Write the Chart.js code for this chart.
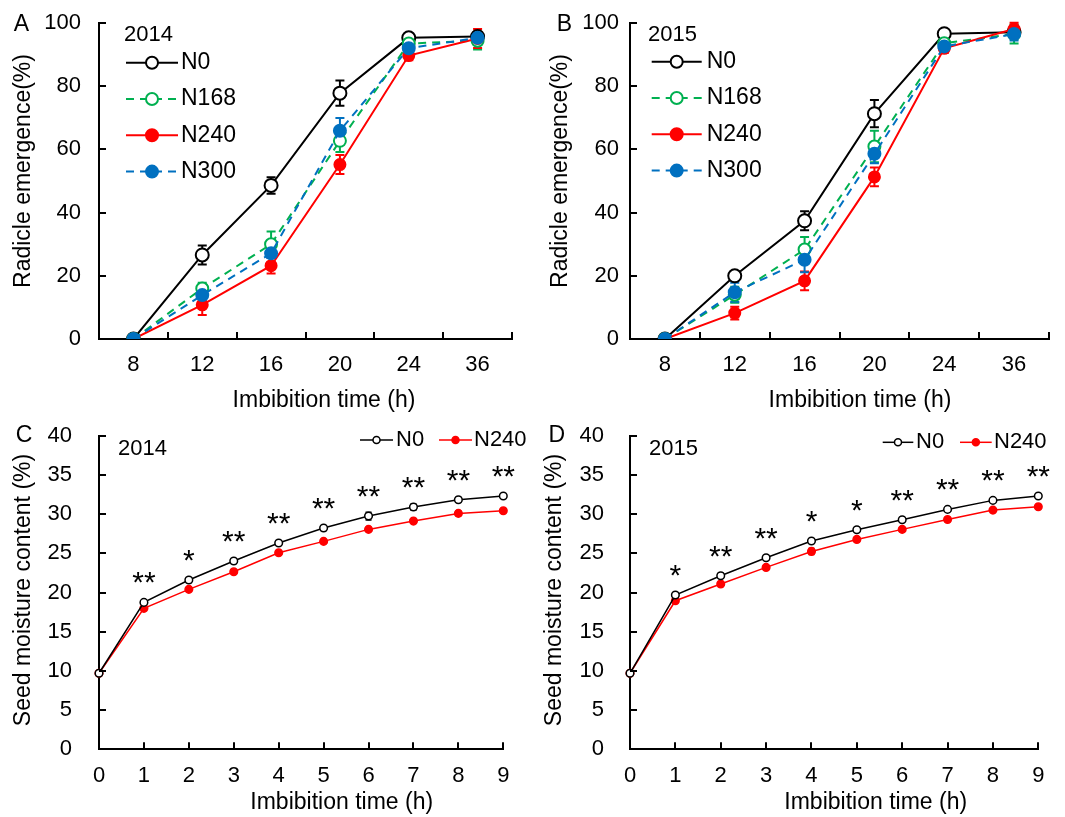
<!DOCTYPE html>
<html>
<head>
<meta charset="utf-8">
<script src="https://cdn.jsdelivr.net/npm/chart.js@4"></script>
<style>
  body { margin: 0; background: #fff; }
  .panel { position: absolute; }
</style>
</head>
<body>
<div class="panel" style="left:0;top:0"><canvas id="chartA" width="530" height="418"></canvas></div>
<div class="panel" style="left:530px;top:0"><canvas id="chartB" width="535" height="418"></canvas></div>
<div class="panel" style="left:0;top:418px"><canvas id="chartC" width="530" height="399"></canvas></div>
<div class="panel" style="left:530px;top:418px"><canvas id="chartD" width="535" height="399"></canvas></div>
<script>
// ========== data ==========
var emergenceHours = ["8", "12", "16", "20", "24", "36"];
var moistureHours = ["0", "1", "2", "3", "4", "5", "6", "7", "8", "9"];

// A: 2014 radicle emergence (%)
var a_N0 = [0, 26.6, 48.6, 77.8, 95.3, 95.7];
var a_N0_err = [0, 3.0, 2.6, 4.0, 0.8, 1.5];
var a_N168 = [0, 16.0, 30.0, 62.7, 93.5, 94.4];
var a_N168_err = [0, 1.8, 4.0, 3.5, 1.0, 2.8];
var a_N240 = [0, 10.8, 23.2, 55.2, 89.7, 95.1];
var a_N240_err = [0, 3.2, 2.5, 3.0, 1.5, 3.0];
var a_N300 = [0, 13.9, 27.1, 65.9, 92.0, 95.3];
var a_N300_err = [0, 1.0, 1.5, 4.0, 1.0, 1.5];

// B: 2015 radicle emergence (%)
var b_N0 = [0, 20.0, 37.4, 71.3, 96.6, 97.1];
var b_N0_err = [0, 1.5, 3.0, 4.3, 0.5, 2.0];
var b_N168 = [0, 14.0, 28.3, 60.9, 93.6, 96.5];
var b_N168_err = [0, 2.5, 4.0, 5.0, 1.0, 3.0];
var b_N240 = [0, 8.2, 18.4, 51.3, 92.0, 98.1];
var b_N240_err = [0, 2.0, 3.0, 3.0, 1.5, 2.0];
var b_N300 = [0, 14.8, 25.1, 58.6, 92.6, 96.5];
var b_N300_err = [0, 3.0, 4.0, 3.0, 1.0, 2.0];

// C: 2014 seed moisture content (%)
var c_N0 = [9.7, 18.74, 21.59, 24.01, 26.31, 28.22, 29.75, 30.90, 31.83, 32.30];
var c_N0_err = [0.2, 0.2, 0.3, 0.3, 0.2, 0.3, 0.5, 0.4, 0.3, 0.2];
var c_N240 = [9.7, 17.98, 20.40, 22.65, 25.07, 26.52, 28.05, 29.11, 30.09, 30.43];
var c_N240_err = [0.2, 0.2, 0.2, 0.2, 0.2, 0.2, 0.2, 0.2, 0.3, 0.2];
var c_sig = ["", "**", "*", "**", "**", "**", "**", "**", "**", "**"];

// D: 2015 seed moisture content (%)
var d_N0 = [9.7, 19.68, 22.14, 24.44, 26.56, 28.00, 29.28, 30.60, 31.75, 32.30];
var d_N0_err = [0.2, 0.2, 0.3, 0.2, 0.2, 0.2, 0.2, 0.2, 0.2, 0.2];
var d_N240 = [9.7, 18.95, 21.08, 23.20, 25.24, 26.77, 28.05, 29.32, 30.51, 30.94];
var d_N240_err = [0.2, 0.2, 0.3, 0.2, 0.4, 0.3, 0.2, 0.2, 0.3, 0.2];
var d_sig = ["", "*", "**", "**", "*", "*", "**", "**", "**", "**"];

// ========== styles ==========
var FONT = "'Liberation Sans', Arial, sans-serif";
Chart.defaults.font.family = FONT;
Chart.defaults.color = "#000";

var styleN0 = { color: "#000000", fill: "#ffffff", dash: [] };
var styleN168 = { color: "#00B050", fill: "#ffffff", dash: [8, 6] };
var styleN240 = { color: "#FF0000", fill: "#FF0000", dash: [] };
var styleN300 = { color: "#0070C0", fill: "#0070C0", dash: [8, 6] };

function series(label, data, st, radius, lw, order) {
    return {
        label: label, data: data,
        borderColor: st.color, backgroundColor: st.fill, borderDash: st.dash,
        borderWidth: lw, tension: 0, order: order,
        pointRadius: radius, pointBorderWidth: lw,
        pointBackgroundColor: st.fill, pointBorderColor: st.color,
        pointHoverRadius: radius
    };
}

// per-panel decoration (text, legend, error bars, stars)
var panelCfg = {};

function txt(ctx, s, x, y, size, align) {
    ctx.font = size + "px " + FONT;
    ctx.fillStyle = "#000";
    ctx.textAlign = align || "center";
    ctx.textBaseline = "middle";
    ctx.fillText(s, x, y);
}

var decorPlugin = {
    id: "decor",
    beforeDatasetsDraw: function(chart) {
        var cfg = panelCfg[chart.canvas.id];
        var ctx = chart.ctx, ys = chart.scales.y;
        cfg.errors.forEach(function(err, di) {
            var d = chart.data.datasets[di];
            var meta = chart.getDatasetMeta(di);
            ctx.save();
            ctx.strokeStyle = d.borderColor;
            ctx.lineWidth = cfg.errWidth;
            ctx.setLineDash([]);
            err.forEach(function(e, j) {
                if (!e) return;
                var x = meta.data[j].x;
                var y1 = ys.getPixelForValue(d.data[j] - e);
                var y2 = ys.getPixelForValue(d.data[j] + e);
                ctx.beginPath();
                ctx.moveTo(x, y1); ctx.lineTo(x, y2);
                ctx.moveTo(x - cfg.cap, y1); ctx.lineTo(x + cfg.cap, y1);
                ctx.moveTo(x - cfg.cap, y2); ctx.lineTo(x + cfg.cap, y2);
                ctx.stroke();
            });
            ctx.restore();
        });
    },
    afterDraw: function(chart) {
        var cfg = panelCfg[chart.canvas.id];
        var ctx = chart.ctx, xs = chart.scales.x, ys = chart.scales.y;
        var area = chart.chartArea;

        // inside tick marks
        ctx.save();
        ctx.strokeStyle = "#000";
        ctx.lineWidth = 2;
        ctx.beginPath();
        ys.ticks.forEach(function(t) {
            if (t.value === ys.min) return;
            var py = Math.round(ys.getPixelForValue(t.value));
            ctx.moveTo(area.left, py); ctx.lineTo(area.left + 7, py);
        });
        var n = xs.ticks.length;
        for (var i = 0; i < n; i++) {
            var px;
            if (cfg.betweenTicks) {
                var half = (xs.getPixelForValue(1) - xs.getPixelForValue(0)) / 2;
                px = xs.getPixelForValue(i) + half;
            } else {
                if (i === 0) continue;
                px = xs.getPixelForValue(i);
            }
            px = Math.round(px);
            ctx.moveTo(px, area.bottom); ctx.lineTo(px, area.bottom - 7);
        }
        ctx.stroke();
        ctx.restore();

        // titles
        txt(ctx, cfg.letter, cfg.letterPos[0], cfg.letterPos[1], 23);
        txt(ctx, cfg.xTitle, cfg.xTitlePos[0], cfg.xTitlePos[1], 23);
        ctx.save();
        ctx.translate(cfg.yTitlePos[0], cfg.yTitlePos[1]);
        ctx.rotate(-Math.PI / 2);
        txt(ctx, cfg.yTitle, 0, 0, 23);
        ctx.restore();
        txt(ctx, cfg.year, cfg.yearPos[0], cfg.yearPos[1], 22, "left");

        // legend
        cfg.legend.forEach(function(it) {
            var d = chart.data.datasets[it.di];
            ctx.save();
            ctx.strokeStyle = d.borderColor;
            ctx.lineWidth = d.borderWidth;
            ctx.setLineDash(d.borderDash);
            ctx.beginPath();
            ctx.moveTo(it.x1, it.y); ctx.lineTo(it.x2, it.y);
            ctx.stroke();
            ctx.setLineDash([]);
            ctx.beginPath();
            ctx.arc((it.x1 + it.x2) / 2, it.y, cfg.legendMarker, 0, Math.PI * 2);
            ctx.fillStyle = d.pointBackgroundColor;
            ctx.fill();
            ctx.lineWidth = d.pointBorderWidth;
            ctx.stroke();
            ctx.restore();
            txt(ctx, d.label, it.tx, it.y, cfg.legendFont, "left");
        });

        // significance stars above N0
        if (cfg.sig) {
            var meta = chart.getDatasetMeta(0);
            cfg.sig.forEach(function(s, j) {
                if (!s) return;
                var p = meta.data[j];
                ctx.font = "30px " + FONT;
                ctx.fillStyle = "#000";
                ctx.textAlign = "center";
                ctx.textBaseline = "alphabetic";
                ctx.fillText(s, p.x, p.y - 10);
            });
        }
    }
};

function axisStyle() {
    return { display: true, color: "#000", width: 2 };
}

function makeChart(id, labels, datasets, pad, xHeight, yWidth, yMax, yStep, yPad, offset) {
    return new Chart(document.getElementById(id), {
        type: "line",
        data: { labels: labels, datasets: datasets },
        options: {
            responsive: false,
            animation: false,
            layout: { autoPadding: false, padding: pad },
            plugins: { legend: { display: false }, title: { display: false }, tooltip: { enabled: false } },
            scales: {
                x: {
                    type: "category", offset: offset,
                    grid: { display: false, drawTicks: false },
                    border: axisStyle(),
                    ticks: { font: { size: 22 }, color: "#000", padding: 13, maxRotation: 0, autoSkip: false },
                    afterFit: function(s) { s.height = xHeight; s.paddingLeft = 0; s.paddingRight = 0; }
                },
                y: {
                    min: 0, max: yMax,
                    grid: { display: false, drawTicks: false },
                    border: axisStyle(),
                    ticks: { stepSize: yStep, font: { size: 22 }, color: "#000", padding: yPad },
                    afterFit: function(s) { s.width = yWidth; s.paddingTop = 0; s.paddingBottom = 0; }
                }
            }
        },
        plugins: [decorPlugin]
    });
}

function vLegend(x1, x2, tx, y0, dy) {
    return [0, 1, 2, 3].map(function(i) {
        return { di: i, x1: x1, x2: x2, tx: tx, y: y0 + dy * i };
    });
}

// ========== A ==========
panelCfg.chartA = {
    letter: "A", letterPos: [21.5, 25],
    yTitle: "Radicle emergence(%)", yTitlePos: [24, 171],
    xTitle: "Imbibition time (h)", xTitlePos: [324, 401],
    year: "2014", yearPos: [124, 35],
    legendFont: 23, legendMarker: 6,
    legend: vLegend(126, 178, 181, 62.7, 36.3),
    errors: [a_N0_err, a_N168_err, a_N240_err, a_N300_err],
    errWidth: 2, cap: 4.5, betweenTicks: true
};
makeChart("chartA", emergenceHours, [
    series("N0", a_N0, styleN0, 6.5, 2, 3),
    series("N168", a_N168, styleN168, 6, 2, 2),
    series("N240", a_N240, styleN240, 5.5, 2, 1),
    series("N300", a_N300, styleN300, 6, 2, 0)
], { top: 23, right: 18, left: 0, bottom: 0 }, 79, 99, 100, 20, 18, true);

// ========== B ==========
panelCfg.chartB = {
    letter: "B", letterPos: [34.5, 25],
    yTitle: "Radicle emergence(%)", yTitlePos: [31, 171],
    xTitle: "Imbibition time (h)", xTitlePos: [330, 401],
    year: "2015", yearPos: [118, 34.5],
    legendFont: 23, legendMarker: 6,
    legend: vLegend(121.7, 171.7, 176.7, 61.7, 36.3),
    errors: [b_N0_err, b_N168_err, b_N240_err, b_N300_err],
    errWidth: 2, cap: 4.5, betweenTicks: true
};
makeChart("chartB", emergenceHours, [
    series("N0", b_N0, styleN0, 6.5, 2, 3),
    series("N168", b_N168, styleN168, 6, 2, 2),
    series("N240", b_N240, styleN240, 5.5, 2, 1),
    series("N300", b_N300, styleN300, 6, 2, 0)
], { top: 23, right: 16, left: 0, bottom: 0 }, 79, 100, 100, 20, 11, true);

// ========== C ==========
panelCfg.chartC = {
    letter: "C", letterPos: [24, 17.8],
    yTitle: "Seed moisture content (%)", yTitlePos: [24, 172],
    xTitle: "Imbibition time (h)", xTitlePos: [341.7, 385],
    year: "2014", yearPos: [118, 30.5],
    legendFont: 22, legendMarker: 3.5,
    legend: [
        { di: 0, x1: 360, x2: 393, tx: 396, y: 22 },
        { di: 1, x1: 439, x2: 472, tx: 474, y: 22 }
    ],
    errors: [c_N0_err, c_N240_err],
    errWidth: 1.5, cap: 3, betweenTicks: false,
    sig: c_sig
};
makeChart("chartC", moistureHours, [
    series("N0", c_N0, styleN0, 3.8, 1.5, 0),
    series("N240", c_N240, styleN240, 3.8, 1.5, 1)
], { top: 17.7, right: 26.7, left: 0, bottom: 0 }, 67.7, 99, 40, 5, 27, false);

// ========== D ==========
panelCfg.chartD = {
    letter: "D", letterPos: [26.7, 18],
    yTitle: "Seed moisture content (%)", yTitlePos: [25, 172],
    xTitle: "Imbibition time (h)", xTitlePos: [345.7, 385],
    year: "2015", yearPos: [119, 30.5],
    legendFont: 22, legendMarker: 3.5,
    legend: [
        { di: 0, x1: 352.7, x2: 383.3, tx: 386, y: 24.3 },
        { di: 1, x1: 430, x2: 461.7, tx: 464, y: 24.3 }
    ],
    errors: [d_N0_err, d_N240_err],
    errWidth: 1.5, cap: 3, betweenTicks: false,
    sig: d_sig
};
makeChart("chartD", moistureHours, [
    series("N0", d_N0, styleN0, 3.8, 1.5, 0),
    series("N240", d_N240, styleN240, 3.8, 1.5, 1)
], { top: 17.7, right: 26.7, left: 0, bottom: 0 }, 67.7, 100, 40, 5, 26, false);
</script>
</body>
</html>
